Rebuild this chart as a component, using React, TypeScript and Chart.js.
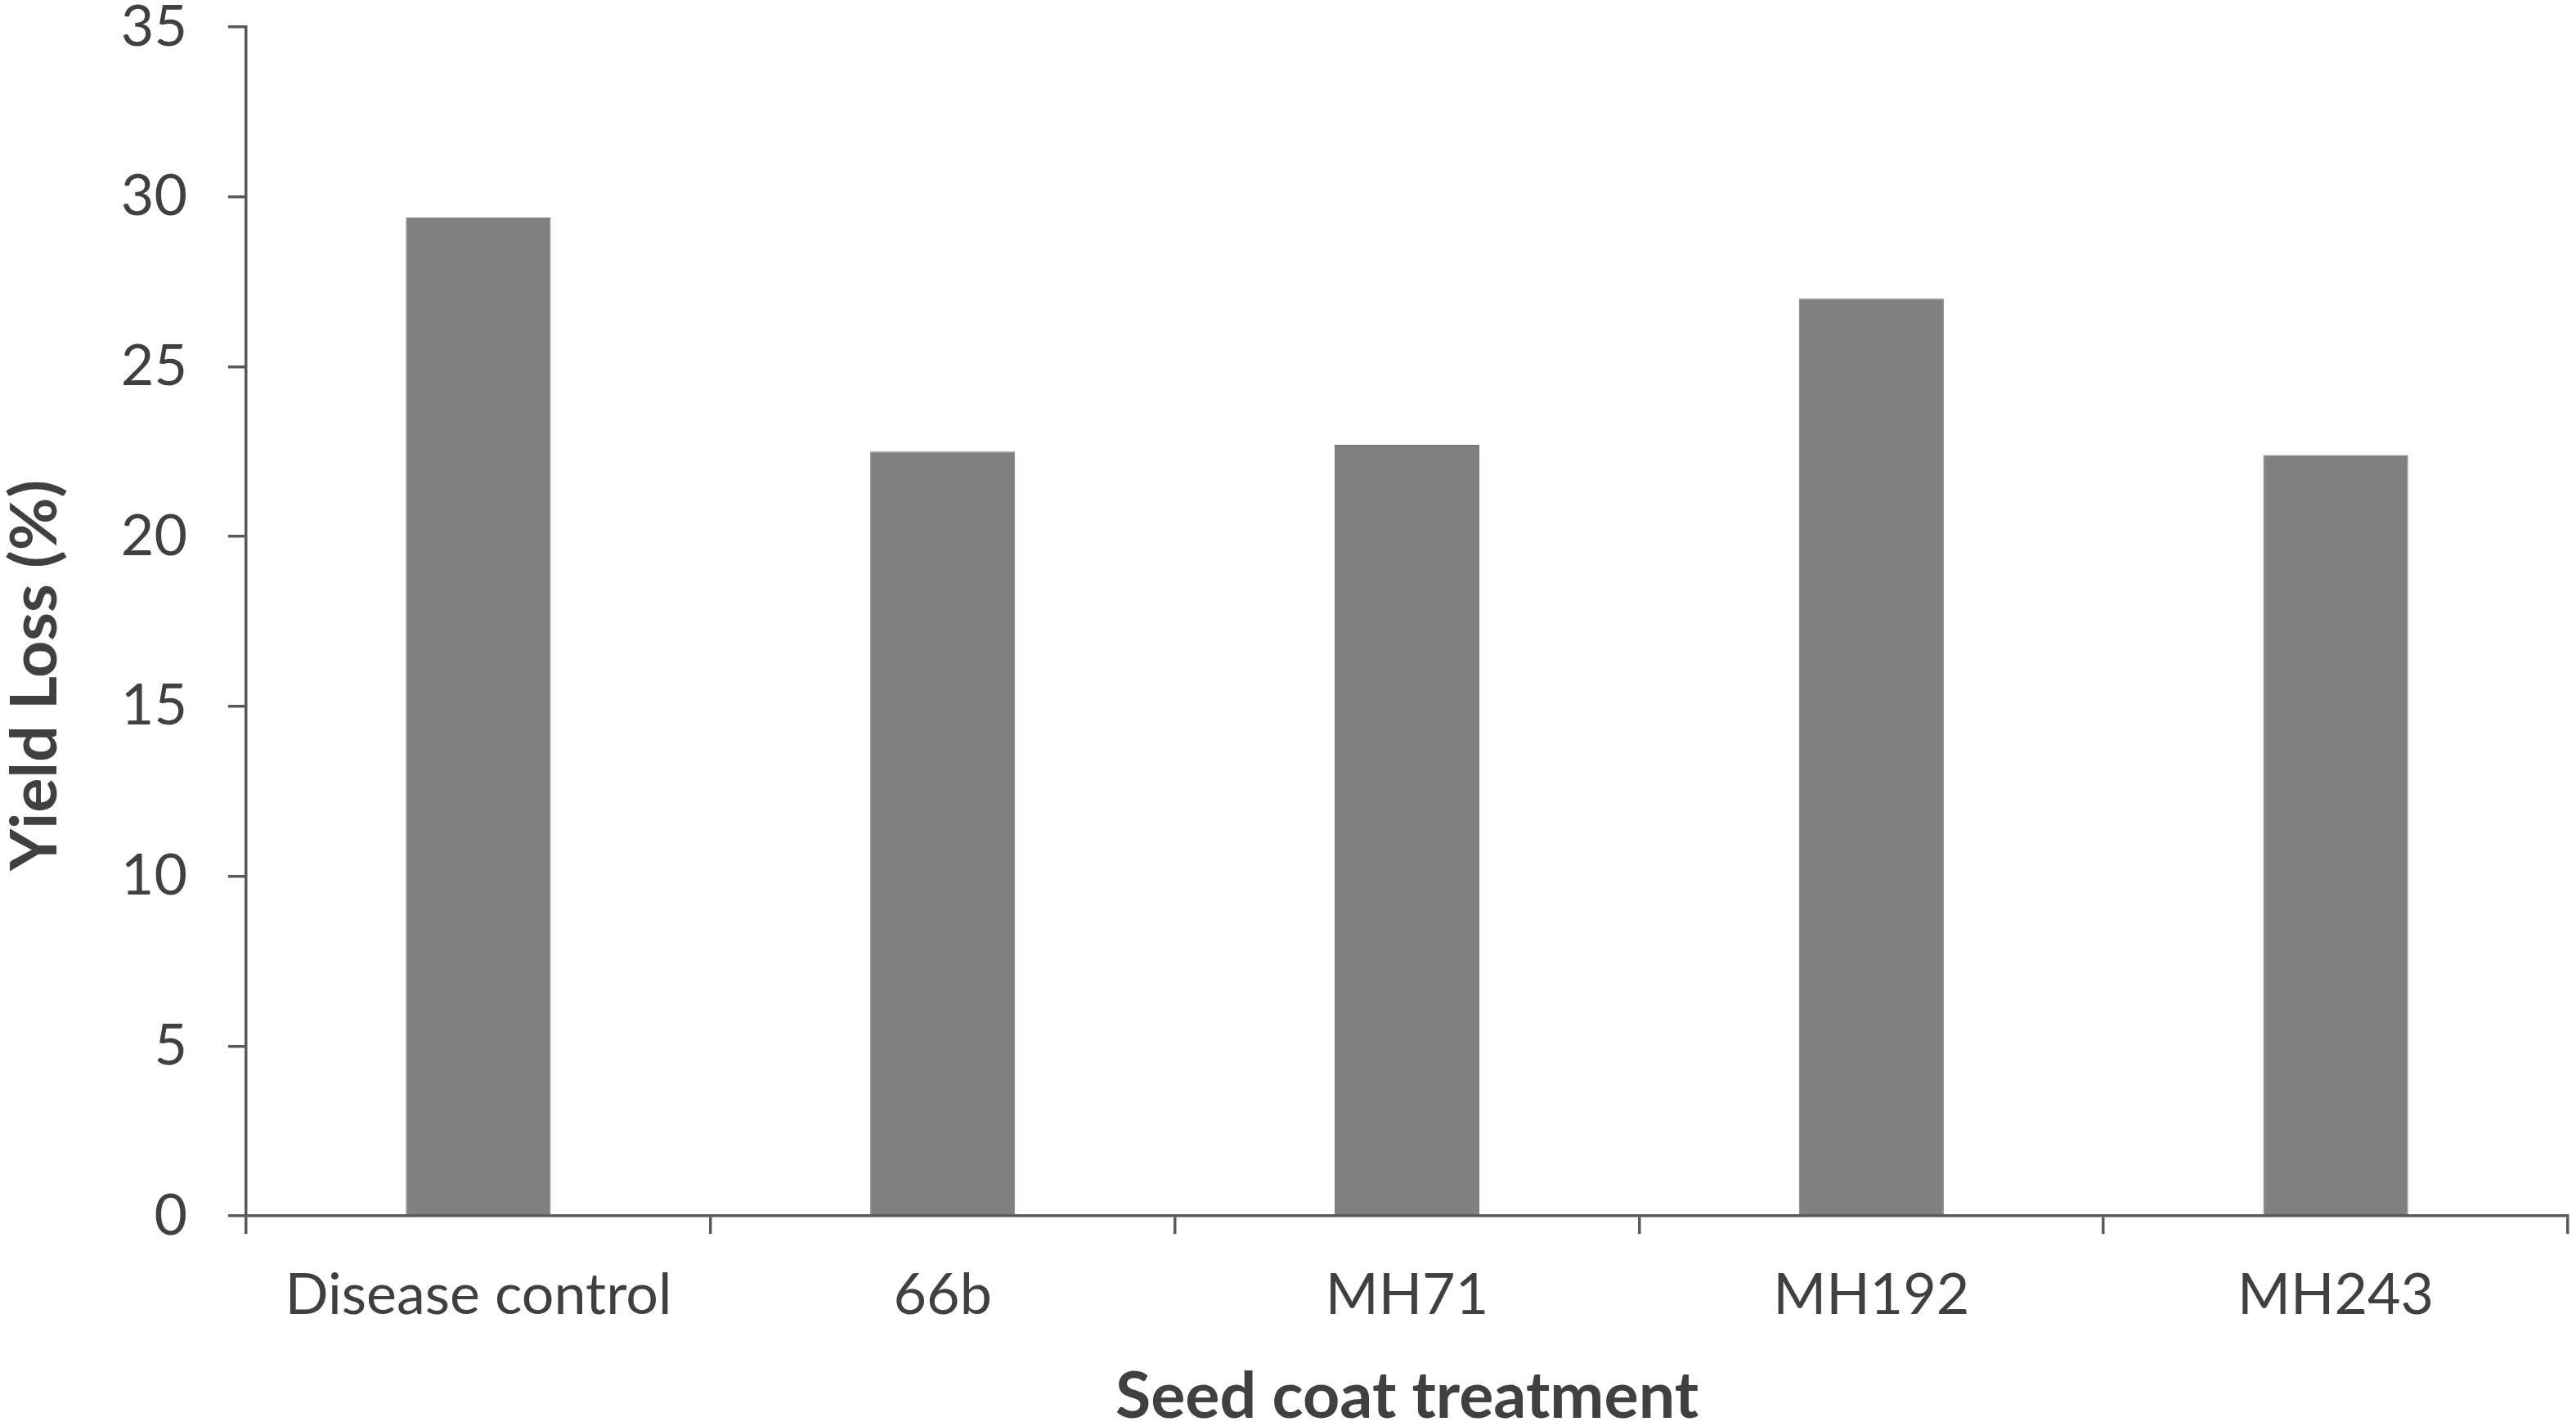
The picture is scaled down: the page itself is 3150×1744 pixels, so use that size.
import React, { useEffect, useRef } from 'react';
import { Chart, registerables, Plugin } from 'chart.js';

Chart.register(...registerables);

// values
const treatments = ['Disease control', '66b', 'MH71', 'MH192', 'MH243'];
const yieldLoss = [29.4, 22.5, 22.7, 27.0, 22.4];
const yTicks = [0, 5, 10, 15, 20, 25, 30, 35];

const FONT = 'Lato, "Open Sans", sans-serif';
const AXIS = '#595959';
const TEXT = '#404040';

// rotated y title, placed the way the original figure has it
const yTitle: Plugin<'bar'> = {
  id: 'yTitle',
  afterDraw(chart) {
    const { ctx, chartArea } = chart;
    ctx.save();
    ctx.font = `bold 79px ${FONT}`;
    ctx.fillStyle = TEXT;
    ctx.textAlign = 'center';
    ctx.textBaseline = 'middle';
    ctx.translate(44, (chartArea.top + chartArea.bottom) / 2 + 66);
    ctx.rotate(-Math.PI / 2);
    ctx.fillText('Yield Loss (%)', 0, 0);
    ctx.restore();
  },
};

const App: React.FC = () => {
  const canvasRef = useRef<HTMLCanvasElement | null>(null);

  useEffect(() => {
    const canvas = canvasRef.current;
    if (!canvas) return;

    const chart = new Chart(canvas, {
      type: 'bar',
      data: {
        labels: treatments,
        datasets: [
          {
            data: yieldLoss,
            backgroundColor: '#808080',
            borderColor: '#767676',
            borderWidth: 1,
            categoryPercentage: 1,
            barPercentage: 0.312,
          },
        ],
      },
      options: {
        animation: false,
        responsive: false,
        devicePixelRatio: 1,
        layout: { padding: { left: 0, right: 10, top: 0, bottom: 0 } },
        plugins: {
          legend: { display: false },
          tooltip: { enabled: false },
        },
        scales: {
          x: {
            grid: {
              offset: true,
              drawOnChartArea: false,
              drawTicks: true,
              tickLength: 22,
              color: AXIS,
              lineWidth: 3.5,
            },
            border: { color: AXIS, width: 3.5 },
            ticks: {
              color: TEXT,
              padding: 33,
              font: { family: FONT, size: 70, lineHeight: 1.2 },
            },
            title: {
              display: true,
              text: 'Seed coat treatment',
              color: TEXT,
              padding: { top: 0, bottom: 0 },
              font: { family: FONT, size: 79, weight: 'bold', lineHeight: 1.2 },
            },
            afterFit(scale) {
              scale.height = 1756 - 1487;
            },
          },
          y: {
            min: 0,
            max: 35,
            afterBuildTicks(scale) {
              scale.ticks = yTicks.map((v) => ({ value: v }));
            },
            grid: {
              drawOnChartArea: false,
              drawTicks: true,
              tickLength: 22,
              color: AXIS,
              lineWidth: 3.5,
            },
            border: { color: AXIS, width: 3.5 },
            ticks: {
              color: TEXT,
              padding: 50,
              font: { family: FONT, size: 70, lineHeight: 0.95 },
            },
            afterFit(scale) {
              scale.width = 301;
              // tick padding is horizontal here, keep it out of the top gap
              scale.paddingTop = 33;
              scale.paddingBottom = 0;
            },
          },
        },
      },
      plugins: [yTitle],
    });

    return () => {
      chart.destroy();
    };
  }, []);

  return (
    <div style={{ position: 'fixed', left: 0, top: 0, width: 3150, height: 1756, background: '#fff' }}>
      <canvas ref={canvasRef} width={3150} height={1756} />
    </div>
  );
};

export default App;
